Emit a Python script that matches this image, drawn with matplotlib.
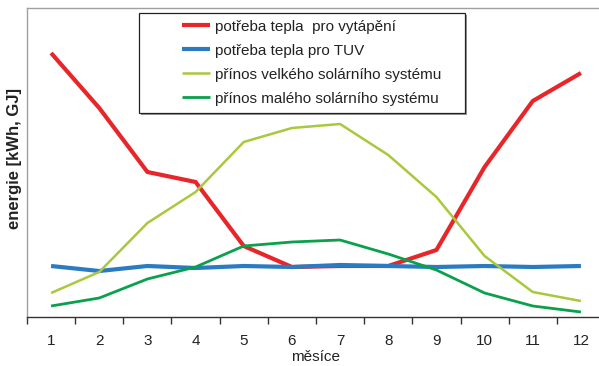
import numpy as np
import matplotlib
matplotlib.use("Agg")
import matplotlib.pyplot as plt
from matplotlib.patches import Rectangle

plt.rcParams["font.family"] = ["Liberation Sans", "DejaVu Sans"]

# monthly energy (relative units)
months = np.arange(1, 13)
month_labels = [str(m) for m in months]
heating = [264, 209, 145, 135, 71, 50, 51, 51, 67, 150, 216, 244]
hot_water = [51, 46, 51, 49, 51, 50, 52, 51, 50, 51, 50, 51]
solar_large = [24, 45, 94, 125, 175, 189, 193, 162, 120, 61, 25, 16]
solar_small = [11, 19, 38, 50, 71, 75, 77, 63, 47, 24, 11, 5]

series_names = [
    "potřeba tepla  pro vytápění",
    "potřeba tepla pro TUV",
    "přínos velkého solárního systému",
    "přínos malého solárního systému",
]

fig = plt.figure(figsize=(5.99, 3.66), dpi=100)
ax = fig.add_axes([27 / 599, 49 / 366, 578 / 599, 309 / 366])

l1, = ax.plot(months, heating, color="#e8262a", lw=3.0, solid_capstyle="butt")
l2, = ax.plot(months, hot_water, color="#2a7bc2", lw=3.0, solid_capstyle="butt")
l3, = ax.plot(months, solar_large, color="#a9c83c", lw=1.8, solid_capstyle="butt")
l4, = ax.plot(months, solar_small, color="#0aa04c", lw=2.0, solid_capstyle="butt")

ax.set_xlim(0.5, 12.5)
ax.set_ylim(0, 309)
ax.set_yticks([])

# category axis: labels in the middle, ticks between months
ax.set_xticks(months)
ax.set_xticklabels(month_labels, fontsize=11, color="#222222")
ax.tick_params(axis="x", which="major", length=0, pad=12)
ax.set_xticks(np.arange(0.5, 13), minor=True)
ax.tick_params(axis="x", which="minor", length=5, width=1, color="#333333",
               direction="out")

ax.spines["left"].set_color("#a0a0a0")
ax.spines["top"].set_color("#a0a0a0")
ax.spines["right"].set_visible(False)
ax.spines["bottom"].set_color("#333333")
for s in ax.spines.values():
    s.set_linewidth(1.0)

ax.set_xlabel("měsíce", fontsize=11, color="#222222", labelpad=2)
fig.text(15 / 599, 1 - 159 / 366, "energie [kWh, GJ]", rotation=90,
         ha="center", va="center", fontsize=12, fontweight="bold",
         color="#222222")

# legend box with a grey drop shadow
bx0, by0, bx1, by1 = 139, 13, 465, 113
shadow = Rectangle(((bx0 + 2) / 599, 1 - (by1 + 2) / 366),
                   (bx1 - bx0) / 599, (by1 - by0) / 366,
                   transform=fig.transFigure, facecolor="#9a9a9a",
                   edgecolor="none", zorder=5)
box = Rectangle((bx0 / 599, 1 - by1 / 366),
                (bx1 - bx0) / 599, (by1 - by0) / 366,
                transform=fig.transFigure, facecolor="white",
                edgecolor="#222222", linewidth=0.9, zorder=6)
fig.patches.extend([shadow, box])

leg = fig.legend([l1, l2, l3, l4], series_names, loc="upper left",
                 bbox_to_anchor=(168 / 599, 1 - 6 / 366), frameon=False,
                 fontsize=11, handlelength=1.85, handletextpad=0.35,
                 labelspacing=0.65, borderpad=0.4)
leg.set_zorder(7)
for t in leg.get_texts():
    t.set_color("#222222")

fig.savefig("out.png", dpi=100)
